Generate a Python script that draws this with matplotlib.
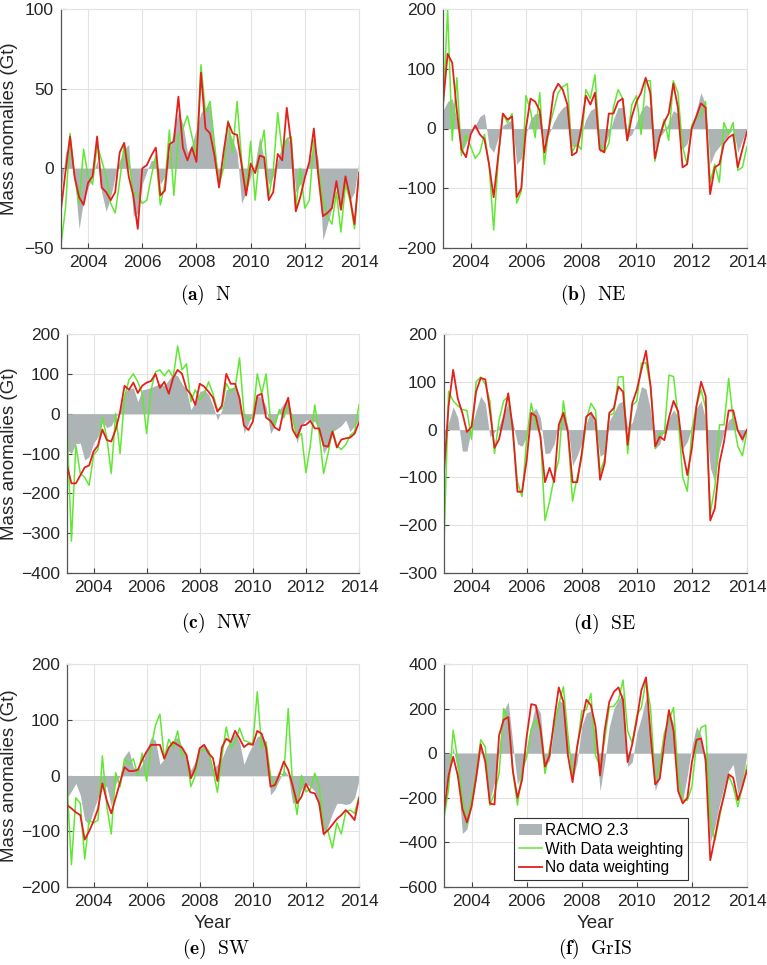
import numpy as np
import matplotlib
matplotlib.use("Agg")
import matplotlib.pyplot as plt

plt.rcParams['font.family'] = ['Liberation Sans', 'DejaVu Sans']
plt.rcParams['mathtext.fontset'] = 'cm'

# bi-monthly solutions, Jan 2003 - Jan 2014
years = 2003 + np.arange(67) / 6

# (a) N
racmo_n = [-15, 10, 15, -5, -38, -20, -12, -5, 5, -15, -27, -18, -5, 5, 12, 15, -30, -28, -10, -2, 5, 5, -10, -5,
           10, 25, 35, 28, 10, 15, 25, 35, 38, 40, 15, -12, 5, 25, 18, 10, -22, -15, -5, 3, 20, 5, -10, -5,
           5, 15, 20, 15, -15, -10, -5, 5, 15, 5, -45, -35, -25, -10, -25, -10, -20, -15, 5]
weighted_n = [-48, -25, 22, -5, -22, 12, -5, -10, 15, 5, -5, -22, -28, -8, 15, 5, -15, -17, -22, -20, -5, 8, -23, -10,
              24, -17, 20, 25, 33, 20, 8, 65, 35, 42, 15, -10, 0, 30, 10, 42, 5, -15, 17, -20, 10, 24, -18, -2,
              35, 10, 18, 20, -25, 0, -25, -20, 18, 0, -20, -30, -35, -15, -40, -10, -20, -38, -2]
unweighted_n = [-26, -2, 20, -5, -18, -23, -9, -5, 20, -12, -15, -20, -15, 10, 16, -5, -17, -38, 0, 2, 8, 13, -17, -14,
                15, 17, 45, 13, 5, 13, 4, 60, 25, 22, 8, -12, 10, 29, 22, 21, 2, -17, 3, -3, 8, 7, -20, -15,
                9, 5, 38, 15, -27, -18, -6, 4, 25, -5, -30, -28, -25, -8, -26, -5, -18, -35, -3]

# (b) NE
racmo_ne = [30, 45, 50, 15, -40, -25, -5, 5, 20, 25, -30, -40, -15, 5, 10, 15, -60, -50, -10, 15, 25, 25, -25, -10,
            10, 25, 35, 40, -30, -30, -10, 15, 30, 35, -40, -30, -10, 15, 35, 35, -15, -10, 10, 30, 40, 35, -35, -15,
            -5, 10, 30, 25, -35, -25, 5, 30, 60, 40, -60, -40, -30, -20, -10, 0, -40, -20, 0]
weighted_ne = [30, 200, -20, 85, -45, -10, -30, -50, -40, -10, -60, -170, -50, 25, 10, 25, -125, -105, 55, 30, -15, 60, -60, 0,
               30, 60, 70, 75, -40, -25, -35, 65, 50, 90, -25, -40, -25, 35, 65, 50, -20, 40, 55, -10, 80, 80, -55, -15,
               15, -20, 80, 60, -30, -60, 5, 20, 20, 45, -90, -60, -90, 10, -10, 10, -70, -65, -30]
unweighted_ne = [40, 125, 110, 30, -35, -48, -10, 5, -10, -18, -60, -115, -45, 25, 15, 20, -115, -100, 0, 50, 45, 30, -40, 0,
                 60, 75, 65, 40, -45, -40, 0, 55, 40, 60, -35, -40, 25, 25, 45, 50, -20, 20, 45, 60, 85, 60, -50, -15,
                 10, 25, 75, 35, -65, -60, 0, 20, 42, 35, -110, -65, -60, -25, -15, -10, -65, -35, -5]

# (c) NW
racmo_nw = [-90, -100, -75, -74, -116, -108, -74, -58, -20, -35, -30, -10, 10, 55, 62, 65, 30, 60, 62, 66, 70, 76, 70, 85,
            100, 95, 75, 60, 10, 30, 55, 60, 48, 20, -16, 9, 60, 65, 68, 45, -49, -25, 5, 45, 40, 18, -50, -30,
            10, 26, 38, -20, -74, -30, -16, -16, -20, -41, -100, -80, -45, -38, -30, -16, -45, -30, -16]
weighted_nw = [-28, -320, -80, -150, -160, -180, -104, -90, -10, -60, -150, 0, -100, 40, 85, 100, 80, 50, -50, 60, 105, 110, 95, 110,
               90, 170, 110, 125, 30, 60, 35, 48, 80, 50, 8, 13, 76, 55, 65, 140, 0, -15, -10, 100, 50, 100, -16, -28,
               10, -10, 20, -10, -60, -50, -148, -80, 22, -50, -150, -100, -40, -80, -90, -78, -55, -45, 22]
unweighted_nw = [-130, -175, -175, -155, -135, -130, -95, -80, -40, -66, -70, -40, 5, 70, 60, 78, 52, 70, 78, 82, 100, 65, 80, 50,
                 90, 110, 100, 62, 48, 22, 75, 68, 55, 40, 5, 20, 100, 75, 75, 38, -30, -41, -20, 45, 50, -10, -18, -35,
                 -42, 10, 40, -40, -60, -30, -28, -18, -37, -37, -80, -83, -45, -85, -65, -62, -60, -50, -22]

# (d) SE
racmo_se = [-20, 15, 48, 25, -45, -45, 5, 40, 70, 55, -15, -5, 8, 35, 55, 15, -30, -35, -15, 32, 45, 25, -50, -49,
            -30, 15, 40, 6, -75, -55, -28, 13, 40, 10, -56, -49, 18, 35, 55, 60, 5, 15, 50, 90, 85, 40, -40, -30,
            5, 25, 41, 27, -40, -25, 5, 45, 60, 20, -80, -110, -40, -5, 20, 27, -8, -28, 6]
weighted_se = [-237, 80, 60, 50, 42, 40, -20, 100, 110, 95, 60, -50, 20, 60, 70, -10, -110, -140, -20, 55, 10, -10, -190, -150,
               -100, -63, 60, -10, -150, -100, -60, 20, 55, 40, -90, -60, 30, 34, 110, 111, -50, 50, 60, 139, 140, 90, -40, -8,
               -8, 114, 111, 27, -100, -129, 0, 50, 83, 45, -175, -120, 10, 10, 107, 20, -35, -55, -4]
unweighted_se = [-88, 50, 125, 65, 35, -5, 6, 80, 108, 105, 40, -38, -20, 25, 76, 0, -130, -130, -65, 35, 28, -15, -110, -80,
                 -110, 10, 35, -5, -110, -110, -50, 27, 35, 20, -105, -70, 35, 45, 90, 79, -32, 55, 83, 125, 165, 90, -35, -15,
                 -22, 25, 60, 38, -45, -95, -38, 50, 100, 70, -190, -165, -70, -25, 40, 40, -2, -20, 0]

# (e) SW
racmo_sw = [-40, -28, -14, -35, -80, -88, -62, -40, -18, -20, -55, -15, 0, 35, 45, 15, 8, 20, 46, 68, 63, 20, 30, 50,
            63, 69, 52, 35, 10, 25, 50, 57, 45, 12, 20, 30, 50, 65, 75, 60, 20, 40, 55, 70, 72, 60, -35, -25,
            -8, 10, 0, -50, -45, -25, -15, -20, -28, -60, -110, -90, -68, -50, -50, -52, -50, -40, -8]
weighted_sw = [-14, -160, -40, -50, -150, -80, -85, -80, 35, -55, -105, 5, -20, 30, 20, 30, 0, 40, -10, 50, 90, 110, 30, 65,
               50, 80, 35, 37, -20, 0, 46, 45, 45, 10, -30, 34, 87, 50, 60, 85, 63, 60, 57, 150, 50, 60, 0, -20,
               4, 0, 120, -20, -70, 0, -29, -25, 4, -20, -92, -100, -130, -85, -105, -65, -62, -68, -38]
unweighted_sw = [-53, -59, -66, -71, -115, -100, -82, -60, -14, -45, -68, -40, -12, 15, 8, 8, 10, 28, 43, 55, 55, 55, 30, 50,
                 60, 55, 50, 37, -5, 13, 49, 55, 40, 31, -10, 50, 66, 60, 80, 66, 51, 57, 55, 80, 75, 50, -20, -17,
                 2, 25, 10, -18, -50, -38, -15, -30, -32, -50, -105, -98, -88, -78, -71, -62, -70, -80, -41]

# (f) GrIS
racmo_gris = [-196, -80, 28, -91, -360, -340, -240, -120, 20, -40, -211, -130, 30, 190, 230, 40, -140, -90, 20, 130, 220, 180, -60, -31,
              130, 238, 225, 60, -121, -40, 120, 180, 190, 80, -170, -40, 118, 200, 240, 268, -60, -40, 90, 160, 250, 100, -170, -106,
              40, 190, 130, -180, -210, -100, 30, 120, 80, -100, -400, -330, -230, -150, -80, -50, -180, -130, 0]
weighted_gris = [-293, -160, 103, -30, -200, -320, -200, -100, 60, 28, -233, -180, -91, 200, 150, -80, -233, -80, -16, 110, 148, 100, -91, 20,
                 120, 220, 298, 80, -106, 20, 190, 195, 268, -10, -60, 60, 208, 210, 240, 328, 100, 45, 170, 205, 330, 200, -130, -50,
                 90, 148, 205, -100, -211, -211, -150, 40, 115, 126, -300, -391, -290, -181, -100, -150, -240, -150, -54]
unweighted_gris = [-263, -100, -16, -100, -250, -310, -240, -110, 40, -40, -226, -230, 80, 150, 162, -80, -200, -120, 73, 220, 215, 110, -60, -10,
                   150, 295, 230, -10, -130, 30, 140, 240, 215, 120, -100, 103, 230, 275, 295, 238, -40, 40, 150, 283, 340, 80, -140, -114,
                   50, 193, 100, -170, -225, -200, -40, 60, 66, -30, -480, -380, -271, -190, -95, -110, -210, -150, -76]

regions = ["N", "NE", "NW", "SE", "SW", "GrIS"]
letters = ["a", "b", "c", "d", "e", "f"]
racmo = [racmo_n, racmo_ne, racmo_nw, racmo_se, racmo_sw, racmo_gris]
weighted = [weighted_n, weighted_ne, weighted_nw, weighted_se, weighted_sw, weighted_gris]
unweighted = [unweighted_n, unweighted_ne, unweighted_nw, unweighted_se, unweighted_sw, unweighted_gris]
ylims = [(-50, 100), (-200, 200), (-400, 200), (-300, 200), (-200, 200), (-600, 400)]
ysteps = [50, 100, 100, 100, 100, 200]

# axes boxes in pixels: left, right, top, bottom
W, H = 767, 965
boxes = [(61, 359, 9, 248), (443, 747, 9, 248),
         (67, 359, 334, 573), (444, 747, 334, 573),
         (67, 359, 664, 887), (444, 747, 664, 887)]
captions = [(206, 295), (593, 295), (217, 623), (604, 624), (216, 949), (595, 949)]

fill_col = '#adb4b6'
green = '#62e834'
red = '#e4201b'

fig = plt.figure(figsize=(W / 100, H / 100), dpi=100)

for i in range(6):
    l, r, t, b = boxes[i]
    ax = fig.add_axes([l / W, 1 - b / H, (r - l) / W, (b - t) / H])
    ax.fill_between(years, 0, racmo[i], color=fill_col, linewidth=0, label='RACMO 2.3')
    ax.plot(years, weighted[i], color=green, lw=1.1, label='With Data weighting')
    ax.plot(years, unweighted[i], color=red, lw=1.3, label='No data weighting')
    ax.set_xlim(2003, 2014)
    ax.set_ylim(*ylims[i])
    ax.set_xticks(range(2004, 2015, 2))
    ax.set_yticks(np.arange(ylims[i][0], ylims[i][1] + 1, ysteps[i]))
    ax.grid(True, color='#e3e3e3', lw=0.8)
    ax.set_axisbelow(True)
    ax.tick_params(direction='in', length=3.5, width=0.8, color='#404040', labelsize=12.5,
                   labelcolor='#262626', pad=5)
    for s in ['left', 'bottom']:
        ax.spines[s].set_color('#555555')
        ax.spines[s].set_linewidth(0.9)
    for s in ['top', 'right']:
        ax.spines[s].set_color('#e3e3e3')
        ax.spines[s].set_linewidth(0.8)
    cx, cy = captions[i]
    fig.text(cx / W, 1 - cy / H, r'$\mathbf{(%s)}\ \ \mathrm{%s}$' % (letters[i], regions[i]),
             ha='center', va='center', fontsize=14)
    if i % 2 == 0:
        fig.text(10 / W, 1 - (t + b) / 2 / H, 'Mass anomalies (Gt)', rotation=90,
                 ha='center', va='center', fontsize=13.5, color='#262626')
    if i >= 4:
        fig.text((l + r) / 2 / W, 1 - 924 / H, 'Year', ha='center', va='center',
                 fontsize=13.5, color='#262626')
    if i == 5:
        leg = ax.legend(loc='lower left', bbox_to_anchor=(0.231, 0.031), fontsize=11.2,
                        fancybox=False, edgecolor='#333333', framealpha=1,
                        handlelength=1.5, handletextpad=0.2, labelspacing=0.25,
                        borderpad=0.3, borderaxespad=0)
        leg.get_frame().set_linewidth(0.8)

fig.savefig('out.png', dpi=100)
